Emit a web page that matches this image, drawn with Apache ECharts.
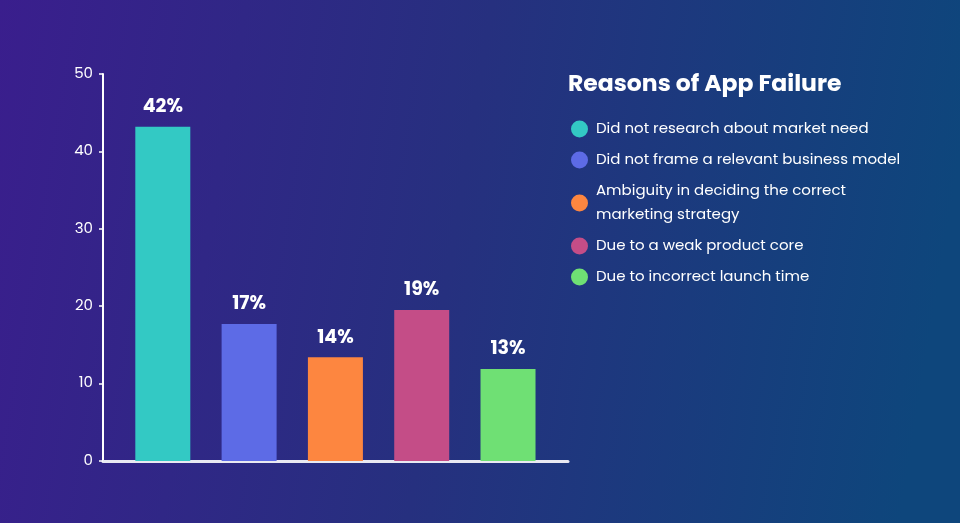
<!DOCTYPE html>
<html>
<head>
<meta charset="utf-8">
<script src="https://cdn.jsdelivr.net/npm/echarts@6/dist/echarts.min.js"></script>
<style>
  html, body { margin: 0; padding: 0; }
  #chart { width: 960px; height: 523px; }
</style>
</head>
<body>
<div id="chart"></div>
<script>
// data
var reasons = [
  'Did not research about market need',
  'Did not frame a relevant business model',
  'Ambiguity in deciding the correct\nmarketing strategy',
  'Due to a weak product core',
  'Due to incorrect launch time'
];
var values = [43.2, 17.7, 13.4, 19.5, 11.9];
var percentLabels = ['42%', '17%', '14%', '19%', '13%'];
var yTicks = [0, 10, 20, 30, 40, 50];

var barColors = ['#33c9c4', '#5d6be6', '#fd8640', '#c44d87', '#6fe074'];
var font = "'Poppins', 'Open Sans', sans-serif";

var series = reasons.map(function (name, i) {
  return {
    name: name,
    type: 'bar',
    stack: 'all',
    barWidth: 55,
    itemStyle: { color: barColors[i] },
    label: {
      show: true,
      position: 'top',
      distance: 10,
      formatter: percentLabels[i],
      color: '#ffffff',
      fontFamily: font,
      fontWeight: 'bold',
      fontSize: 19
    },
    data: [[i, values[i]]]
  };
});

var chart = echarts.init(document.getElementById('chart'));
chart.setOption({
  backgroundColor: {
    type: 'linear', x: 0, y: 0, x2: 1, y2: 0.3,
    colorStops: [
      { offset: 0, color: '#3a1e8d' },
      { offset: 0.5, color: '#26307f' },
      { offset: 1, color: '#0e467c' }
    ]
  },
  animation: false,
  title: {
    text: 'Reasons of App Failure',
    left: 563,
    top: 68,
    textStyle: { color: '#ffffff', fontFamily: font, fontWeight: 'bold', fontSize: 23.5 }
  },
  legend: {
    orient: 'vertical',
    left: 566,
    top: 112,
    icon: 'circle',
    itemWidth: 17,
    itemHeight: 17,
    itemGap: 7,
    selectedMode: false,
    textStyle: {
      color: '#ffffff',
      fontFamily: font,
      fontSize: 15,
      lineHeight: 24,
      padding: [0, 0, 0, 3]
    },
    data: reasons
  },
  grid: { left: 103, right: 392, top: 74, bottom: 62 },
  xAxis: {
    type: 'value',
    min: -0.693,
    max: 4.695,
    axisLine: { show: true, lineStyle: { color: '#e9e9f2', width: 3 } },
    axisTick: { show: false },
    axisLabel: { show: false },
    splitLine: { show: false }
  },
  yAxis: {
    type: 'value',
    min: yTicks[0],
    max: yTicks[yTicks.length - 1],
    interval: 10,
    axisLine: { show: true, onZero: false, lineStyle: { color: '#ffffff', width: 2 } },
    axisTick: { show: true, length: 4, lineStyle: { color: '#ffffff', width: 1.5 } },
    axisLabel: { color: '#ffffff', fontFamily: font, fontSize: 15, margin: 10 },
    splitLine: { show: false }
  },
  series: series
});
</script>
</body>
</html>
